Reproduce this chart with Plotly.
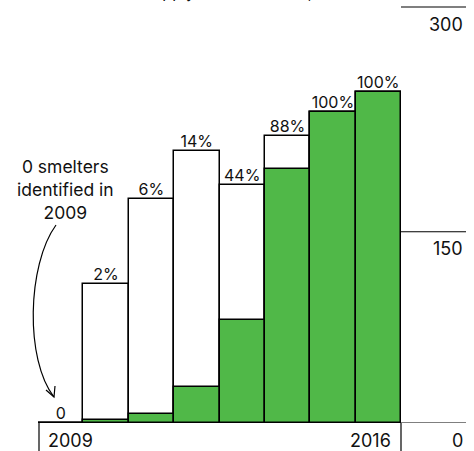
import plotly.graph_objects as go

years = [2009, 2010, 2011, 2012, 2013, 2014, 2015, 2016]
identified = [0, 109, 176, 213, 187, 225, 244, 260]
audited = [0, 2, 7, 28, 81, 199, 244, 260]
pct_labels = ["0", "2%", "6%", "14%", "44%", "88%", "100%", "100%"]
right_ticks = ["300", "150", "0"]

W, H = 474, 451
ML, MR, MT, MB = 38, 73, 7, 28
PW, PH = W - ML - MR, H - MT - MB
YMAX = 326.3
FONT = "Inter"
GREEN = "#50b848"


def px(x):
    return (x - ML) / PW


def py(y):
    return (H - MB - y) / PH


fig = go.Figure()
fig.add_trace(go.Bar(x=years, y=identified, width=1,
                     marker=dict(color="white", line=dict(color="black", width=1.5)),
                     hoverinfo="skip"))
fig.add_trace(go.Bar(x=years, y=audited, width=1,
                     marker=dict(color=GREEN, line=dict(color="black", width=1.5)),
                     hoverinfo="skip"))
fig.add_trace(go.Scatter(x=years, y=identified, mode="text", text=pct_labels,
                         textposition="top center", cliponaxis=False,
                         textfont=dict(family=FONT, size=16, color="#111"),
                         hoverinfo="skip"))

shapes = []
# baseline
shapes.append(dict(type="line", xref="paper", yref="y", x0=px(39), x1=px(466), y0=0, y1=0,
                   line=dict(color="black", width=1.2)))
# vertical separators under baseline
for xx in (39, 401):
    shapes.append(dict(type="line", xref="paper", yref="paper", x0=px(xx), x1=px(xx),
                       y0=0, y1=py(H), line=dict(color="black", width=1.2)))
# right-hand tick lines
shapes.append(dict(type="line", xref="paper", yref="paper", x0=px(401), x1=px(466),
                   y0=1, y1=1, line=dict(color="black", width=1.2)))
shapes.append(dict(type="line", xref="paper", yref="y", x0=px(401), x1=px(466),
                   y0=150, y1=150, line=dict(color="black", width=1.2)))
# curved arrow
p = lambda a, b: f"{px(a)},{py(b)}"
shapes.append(dict(type="path", xref="paper", yref="paper",
                   path=f"M {p(56,225)} C {p(27,265)} {p(25,360)} {p(54,397)}",
                   line=dict(color="black", width=1.2)))
shapes.append(dict(type="path", xref="paper", yref="paper",
                   path=f"M {p(46,390)} L {p(54,397)} L {p(55,386)}",
                   line=dict(color="black", width=1.2)))

ann = []
ann.append(dict(text="0 smelters<br>identified in<br>2009", xref="paper", yref="paper",
                x=px(65), y=py(189), xanchor="center", yanchor="middle", showarrow=False,
                font=dict(family=FONT, size=17.5, color="#111")))
for lab, yy in zip(right_ticks, (25, 248, 440)):
    ann.append(dict(text=lab, xref="paper", yref="paper", x=px(465), y=py(yy),
                    xanchor="right", yanchor="middle", showarrow=False,
                    font=dict(family=FONT, size=18, color="#111")))
ann.append(dict(text="2009", xref="paper", yref="paper", x=px(46), y=py(440),
                xanchor="left", yanchor="middle", showarrow=False,
                font=dict(family=FONT, size=18, color="#111")))
ann.append(dict(text="2016", xref="paper", yref="paper", x=px(393), y=py(440),
                xanchor="right", yanchor="middle", showarrow=False,
                font=dict(family=FONT, size=18, color="#111")))
ann.append(dict(text="Smelters in the supply chain (number, %)", xref="paper", yref="paper",
                x=px(25), y=py(4), xanchor="left", yanchor="bottom", showarrow=False,
                font=dict(family=FONT, size=16, color="#111")))

fig.update_layout(
    width=W, height=H, margin=dict(l=ML, r=MR, t=MT, b=MB),
    paper_bgcolor="white", plot_bgcolor="white",
    barmode="overlay", bargap=0, showlegend=False,
    xaxis=dict(range=[2008.5, 2016.5], visible=False),
    yaxis=dict(range=[0, YMAX], visible=False),
    shapes=shapes, annotations=ann,
)
fig.write_html("out.html", config={"displayModeBar": False},
               post_script="document.body.style.margin='0';document.body.style.padding='0';"
                           "document.body.style.overflow='hidden';")
